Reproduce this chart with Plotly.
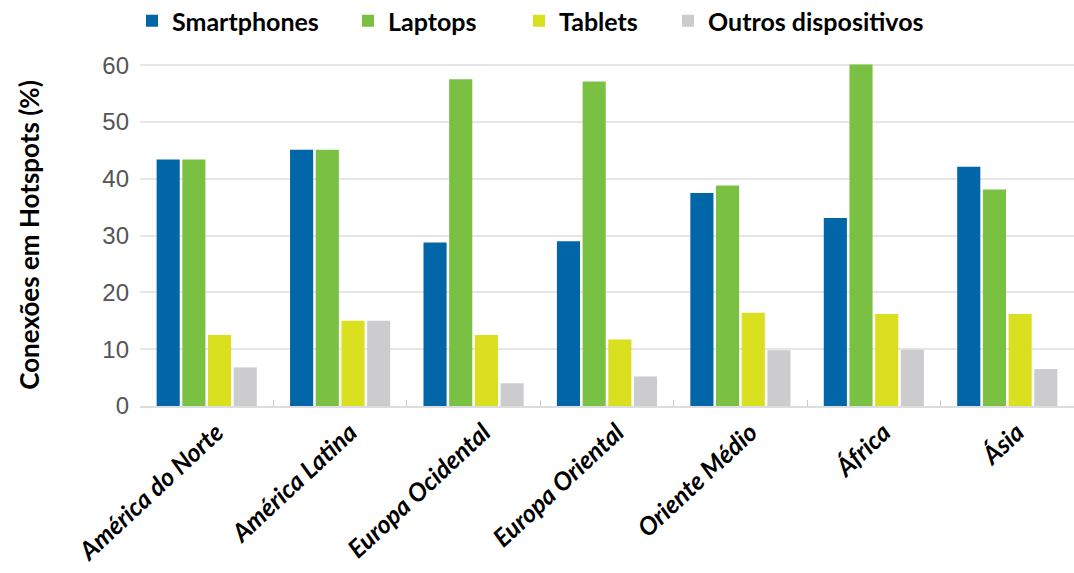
import plotly.graph_objects as go

regions = ["América do Norte", "América Latina", "Europa Ocidental", "Europa Oriental",
           "Oriente Médio", "África", "Ásia"]
smartphones = [43.4, 45.1, 28.8, 29.0, 37.5, 33.1, 42.1]
laptops = [43.4, 45.1, 57.5, 57.1, 38.8, 60.1, 38.1]
tablets = [12.5, 15.0, 12.5, 11.7, 16.4, 16.2, 16.2]
outros = [6.8, 15.0, 4.0, 5.2, 9.8, 9.9, 6.5]

series_names = ["Smartphones", "Laptops", "Tablets", "Outros dispositivos"]
series_values = [smartphones, laptops, tablets, outros]
series_colors = ["#0066A8", "#7AC143", "#DADF1F", "#CCCCCE"]
legend_ids = ["legend", "legend2", "legend3", "legend4"]
legend_px = [132, 348, 519, 668]
legend_w = [200, 150, 130, 260]

W, H = 1074, 573
fig = go.Figure()
for name, vals, color, lid in zip(series_names, series_values, series_colors, legend_ids):
    fig.add_trace(go.Bar(x=regions, y=vals, name=name, legend=lid,
                         marker=dict(color=color, line=dict(width=0))))

legend_font = dict(family="Lato", size=25, color="black", weight="bold")
layout_legends = {}
for lid, px, ew in zip(legend_ids, legend_px, legend_w):
    layout_legends[lid] = dict(orientation="h", xref="container", yref="container",
                               x=px / W, xanchor="left", y=1 - 21 / H, yanchor="middle",
                               entrywidth=ew, entrywidthmode="pixels",
                               font=legend_font, bgcolor="rgba(0,0,0,0)")

fig.update_layout(
    width=W, height=H,
    margin=dict(l=140, r=0, t=64, b=167, autoexpand=False),
    paper_bgcolor="white", plot_bgcolor="white",
    barmode="group", bargap=0.23, bargroupgap=0.1,
    font=dict(family="Lato, Open Sans, sans-serif", color="black"),
    showlegend=True,
    **layout_legends,
)
fig.update_xaxes(
    automargin=False,
    tickangle=-43,
    tickfont=dict(family="Lato", size=25, color="black", weight="bold", style="italic"),
    ticklabelshift=10,
    showline=True, linecolor="#dddddd", linewidth=2,
    ticks="inside", tickson="boundaries", ticklen=6, tickcolor="#cccccc",
    showgrid=False,
)
fig.update_yaxes(
    automargin=False,
    range=[0, 60.2],
    tickvals=[0, 10, 20, 30, 40, 50, 60],
    tickfont=dict(family="Liberation Sans, Arial", size=24, color="#555555"),
    showgrid=True, gridcolor="#e6e6e6", gridwidth=2,
    zeroline=False,
    ticks="", ticklabelstandoff=10,
    title=dict(text="Conexões em Hotspots (%)",
               font=dict(family="Lato", size=26, color="black", weight="bold"),
               standoff=55),
)

fig.write_html("out.html", config={"displayModeBar": False},
               post_script="document.body.style.margin='0';")
